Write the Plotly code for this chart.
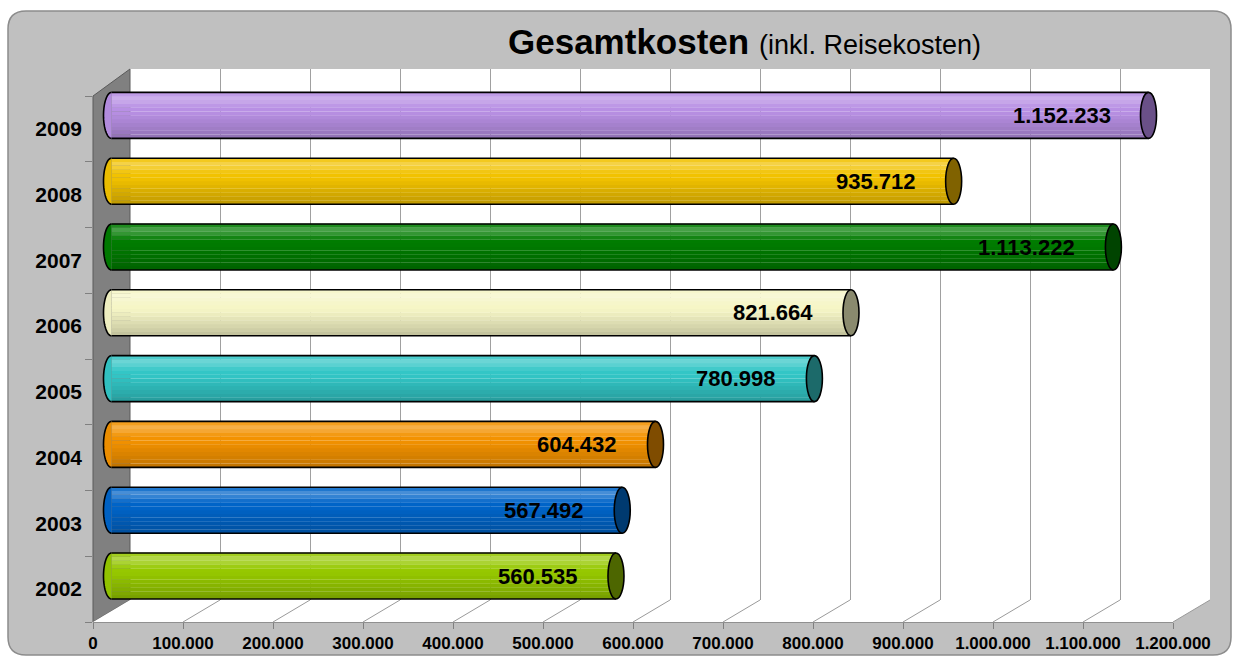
import math
import plotly.graph_objects as go

W, H = 1234, 659
FONT = "Liberation Sans, Arial, sans-serif"

# ---------------- data ----------------
years = ["2002", "2003", "2004", "2005", "2006", "2007", "2008", "2009"]
values = [560535, 567492, 604432, 780998, 821664, 1113222, 935712, 1152233]
bar_colors = ["#96C800", "#0064C8", "#F39200", "#33C6C6", "#F6F6C6", "#007C00", "#F2C200", "#B890E4"]
cap_colors = ["#4D6600", "#003A70", "#7F4C00", "#1C6A6A", "#8A8A6E", "#004400", "#806200", "#6A5088"]
tick_vals = [0, 100000, 200000, 300000, 400000, 500000, 600000,
             700000, 800000, 900000, 1000000, 1100000, 1200000]
title_main = "Gesamtkosten"
title_sub = "(inkl. Reisekosten)"


def fmt(v):
    return f"{v:,}".replace(",", ".")


tick_text = [fmt(v) for v in tick_vals]

# ---------------- geometry (pixels) ----------------
BACK_L, BACK_R, BACK_T, BACK_B = 130, 1210, 69, 600
FRONT_L, FRONT_R, FRONT_Y = 93, 1173, 622
SIDE_TOP_Y = 96
XMAX = 1200000
PPU = (BACK_R - BACK_L) / XMAX          # pixels per unit
BAR_ZERO = 111.5
BAR_C0, BAR_STEP = 576.0, 65.8
BAR_W = 46 / BAR_STEP                   # bar thickness in category units
CAP_RX = 8 / PPU                        # cap half width in data units
XR0, XR1 = -20000, 1220000


def px(x):
    return x / W


def py(y):
    return (H - y) / H


def shade(hexc, f):
    r, g, b = (int(hexc[i:i + 2], 16) for i in (1, 3, 5))
    if f <= 1:
        r, g, b = r * f, g * f, b * f
    else:
        t = min(1, (f - 1) * 2.5)
        r, g, b = r + (255 - r) * t, g + (255 - g) * t, b + (255 - b) * t
    return f"rgb({int(r)},{int(g)},{int(b)})"


fig = go.Figure()

# invisible anchor traces so that all subplots exist
fig.add_trace(go.Scatter(x=[0], y=[0], mode="markers", marker=dict(opacity=0),
                         hoverinfo="skip", showlegend=False, xaxis="x", yaxis="y"))
fig.add_trace(go.Scatter(x=[0] * len(years), y=years, mode="markers", marker=dict(opacity=0),
                         hoverinfo="skip", showlegend=False, xaxis="x2", yaxis="y2"))

# cylinder bodies drawn as stacked stripes
factors = [0.80, 0.84, 0.87, 0.90, 0.93, 0.96, 0.99, 1.0, 1.03, 1.08, 1.11, 1.05]
N = len(factors)
ypos = list(range(len(years)))
for k, f in enumerate(factors):
    fig.add_trace(go.Bar(
        x=values, y=ypos, orientation="h",
        width=BAR_W / N * 1.05, offset=-BAR_W / 2 + k * BAR_W / N,
        marker=dict(color=[shade(c, f) for c in bar_colors], line=dict(width=0)),
        hoverinfo="skip", showlegend=False, xaxis="x3", yaxis="y3"))

shapes = []


def poly(points, **kw):
    d = "M " + " L ".join(f"{px(x)},{py(y)}" for x, y in points) + " Z"
    return dict(type="path", path=d, xref="paper", yref="paper", layer="below", **kw)


# outer rounded frame
x0, y0, x1, y1, r = 8, 11, 1231, 655, 18
frame = (f"M {px(x0 + r)},{py(y0)} L {px(x1 - r)},{py(y0)} "
         f"Q {px(x1)},{py(y0)} {px(x1)},{py(y0 + r)} L {px(x1)},{py(y1 - r)} "
         f"Q {px(x1)},{py(y1)} {px(x1 - r)},{py(y1)} L {px(x0 + r)},{py(y1)} "
         f"Q {px(x0)},{py(y1)} {px(x0)},{py(y1 - r)} L {px(x0)},{py(y0 + r)} "
         f"Q {px(x0)},{py(y0)} {px(x0 + r)},{py(y0)} Z")
shapes.append(dict(type="path", path=frame, xref="paper", yref="paper", layer="below",
                   fillcolor="#C0C0C0", line=dict(color="#8C8C8C", width=1.5)))
# back wall
shapes.append(poly([(BACK_L, BACK_T), (BACK_R, BACK_T), (BACK_R, BACK_B), (BACK_L, BACK_B)],
                   fillcolor="white", line=dict(width=0)))
# side wall
shapes.append(poly([(FRONT_L, SIDE_TOP_Y), (BACK_L, BACK_T), (BACK_L, BACK_B), (FRONT_L, FRONT_Y)],
                   fillcolor="#808080", line=dict(color="#5A5A5A", width=1)))
# floor
shapes.append(poly([(FRONT_L, FRONT_Y), (FRONT_R, FRONT_Y), (BACK_R, BACK_B), (BACK_L, BACK_B)],
                   fillcolor="white", line=dict(width=0)))
# floor diagonals
for v in tick_vals[1:]:
    fx = FRONT_L + v * PPU
    bx = BACK_L + v * PPU
    shapes.append(dict(type="line", xref="paper", yref="paper", layer="below",
                       x0=px(fx), y0=py(FRONT_Y), x1=px(bx), y1=py(BACK_B),
                       line=dict(color="#9A9A9A", width=1)))

# cylinder outlines, left ends and caps (computed from the data)
hw = BAR_W / 2
for i, (v, c, cc) in enumerate(zip(values, bar_colors, cap_colors)):
    for yy in (i + hw, i - hw):
        shapes.append(dict(type="line", xref="x3", yref="y3", layer="above",
                           x0=0, x1=v, y0=yy, y1=yy, line=dict(color="black", width=1.6)))
    pts = []
    for s in range(0, 37):
        th = math.pi / 2 + math.pi * s / 36
        pts.append((CAP_RX * math.cos(th), i + hw * math.sin(th)))
    d = "M " + " L ".join(f"{x},{y}" for x, y in pts)
    shapes.append(dict(type="path", path=d, xref="x3", yref="y3", layer="above",
                       fillcolor=shade(c, 0.97), line=dict(color="black", width=1.6)))
    shapes.append(dict(type="circle", xref="x3", yref="y3", layer="above",
                       x0=v - CAP_RX, x1=v + CAP_RX, y0=i - hw, y1=i + hw,
                       fillcolor=cc, line=dict(color="black", width=1.6)))

annotations = []
for i, v in enumerate(values):
    annotations.append(dict(xref="x3", yref="y3", x=v, y=i, xanchor="right", yanchor="middle",
                            xshift=-36, showarrow=False, text=fmt(v),
                            font=dict(family=FONT, size=22, color="black", weight="bold")))
annotations.append(dict(xref="paper", yref="paper", x=px(744), y=py(41),
                        xanchor="center", yanchor="middle", showarrow=False,
                        text=f"<b>{title_main}</b> <span style='font-size:27px'>{title_sub}</span>",
                        font=dict(family=FONT, size=35, color="black")))

fig.update_layout(
    template="none",
    autosize=False,
    width=W, height=H, margin=dict(l=0, r=0, t=0, b=0, pad=0, autoexpand=False),
    paper_bgcolor="white", plot_bgcolor="rgba(0,0,0,0)",
    barmode="overlay", showlegend=False,
    shapes=shapes, annotations=annotations,
    xaxis=dict(domain=[px(BACK_L), px(BACK_R)], range=[0, XMAX], tickvals=tick_vals,
               showgrid=True, gridcolor="#A0A0A0", gridwidth=1, showticklabels=False,
               ticks="", zeroline=False, showline=False, anchor="y", fixedrange=True,
               automargin=False),
    yaxis=dict(domain=[py(BACK_B), py(BACK_T)], range=[0, 1], visible=False,
               anchor="x", fixedrange=True, automargin=False),
    xaxis2=dict(domain=[px(FRONT_L), px(FRONT_R)], range=[0, XMAX], tickvals=tick_vals,
                ticktext=tick_text, ticks="outside", ticklen=6, tickcolor="#808080", tickwidth=1,
                showgrid=False, zeroline=False, showline=True, linecolor="#909090", linewidth=1,
                tickfont=dict(family=FONT, size=17, color="black", weight="bold"),
                anchor="y2", side="bottom", fixedrange=True, automargin=False),
    yaxis2=dict(domain=[py(FRONT_Y), py(SIDE_TOP_Y)], type="category", categoryorder="array",
                categoryarray=years, range=[-0.5, len(years) - 0.5], tickson="boundaries",
                ticks="outside", ticklen=7, tickcolor="#808080", tickwidth=1,
                ticklabelstandoff=10,
                showgrid=False, showline=False, zeroline=False,
                tickfont=dict(family=FONT, size=21, color="black", weight="bold"),
                anchor="x2", fixedrange=True, automargin=False),
    xaxis3=dict(domain=[px(BAR_ZERO + XR0 * PPU), px(BAR_ZERO + XR1 * PPU)], range=[XR0, XR1],
                visible=False, anchor="y3", fixedrange=True, automargin=False),
    yaxis3=dict(domain=[py(BAR_C0 + BAR_STEP / 2), py(BAR_C0 - BAR_STEP * (len(years) - 0.5))],
                range=[-0.5, len(years) - 0.5], visible=False, anchor="x3", fixedrange=True,
                automargin=False),
)

fig.write_html("out.html", config={"displayModeBar": False, "responsive": False},
               post_script="document.body.style.margin='0';document.body.style.overflow='hidden';")
